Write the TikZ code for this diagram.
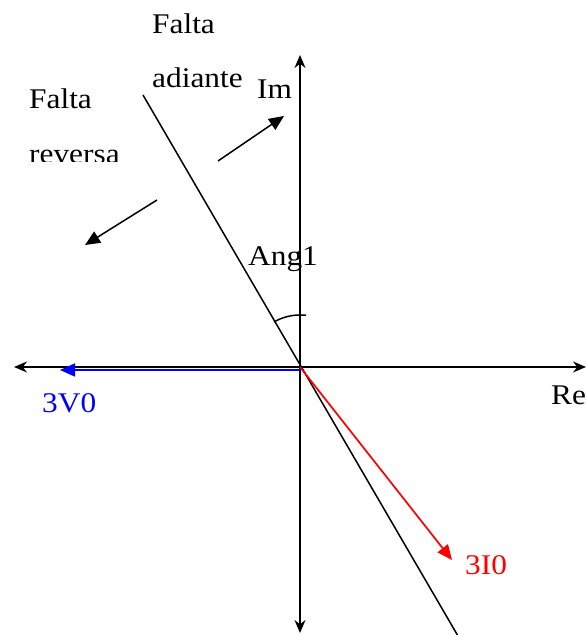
\documentclass[tikz,border=0pt]{standalone}
\usepackage{fontspec}
\setmainfont{Liberation Serif}[FakeStretch=1.1]
\usetikzlibrary{arrows.meta}
\begin{document}
\begin{tikzpicture}[x=1pt,y=-1pt,
  lbl/.style={inner sep=0pt,anchor=base west,font=\fontsize{28.5}{34}\selectfont},
  axis/.style={line width=1.5pt,{Stealth[length=13pt,width=11pt]}-{Stealth[length=13pt,width=11pt]}},
  vec/.style={line width=1.7pt,-{Triangle[length=15pt,width=13pt]}},
  dir/.style={line width=1.5pt,-{Triangle[length=15pt,width=13pt]}}]
\useasboundingbox (0,0) rectangle (586,635);
\coordinate (O) at (300,367);
\coordinate (xl) at (14,367);
\coordinate (xr) at (586,367);
\coordinate (yt) at (300,55);
\coordinate (yb) at (300,633);
\coordinate (dt) at (143,95);
\coordinate (db) at (458,636);
\coordinate (vb) at (60,370);
\coordinate (vs) at (300,370);
\coordinate (ib) at (452,560);
\coordinate (f1s) at (218,161);
\coordinate (f1e) at (284,116);
\coordinate (r1s) at (157,200);
\coordinate (r1e) at (85,245);
% axes
\draw[axis] (xl) -- (xr);
\draw[axis] (yb) -- (yt);
% boundary line
\draw[line width=1.5pt] (dt) -- (db);
% angle arc
\draw[line width=1.5pt] (O) ++(-120:52) arc[start angle=-120,end angle=-90,radius=52] coordinate (ae) -- ++(6,0);
% vectors
\draw[vec,blue] (vs) -- (vb);
\draw[vec,red] (O) -- (ib);
% direction arrows
\draw[dir] (f1s) -- (f1e);
\draw[dir] (r1s) -- (r1e);
% labels
\node[lbl] (fa1) at (152,33) {Falta};
\node[lbl] (fa2) at (152,87) {adiante};
\node[lbl] (im) at (257,98) {Im};
\node[lbl] (fr1) at (29,108) {Falta};
\begin{scope}
\clip (0,130) rectangle (200,161);
\node[lbl] (fr2) at (29,163) {reversa};
\end{scope}
\node[lbl] (ang) at (248,265) {Ang1};
\node[lbl,text=blue] (v0) at (42,412) {3V0};
\node[lbl,text=red] (i0) at (465,574) {3I0};
\node[lbl] (re) at (551,404) {Re};
\end{tikzpicture}
\end{document}
